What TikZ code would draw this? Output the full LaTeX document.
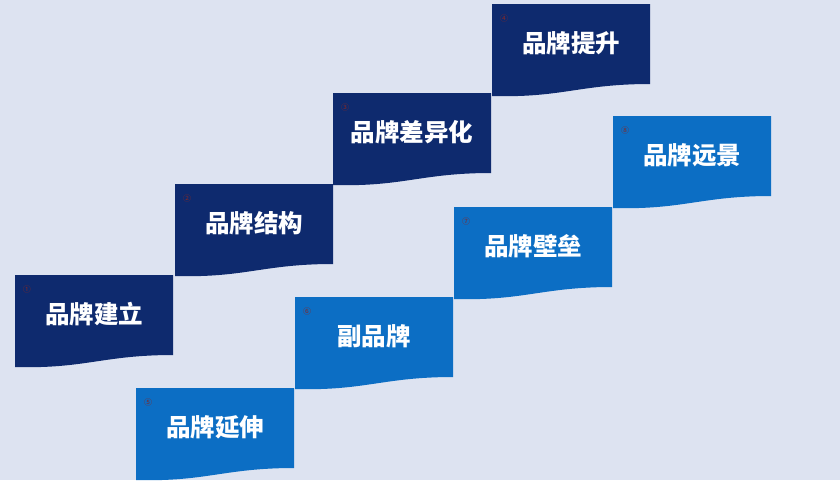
\documentclass[tikz,border=0pt]{standalone}
\usepackage{fontspec}
\newfontfamily\cjk{Noto Sans CJK SC}
\definecolor{bgc}{RGB}{221,227,241}
\definecolor{darkc}{RGB}{14,42,110}
\definecolor{lightc}{RGB}{12,110,196}
\definecolor{numc}{RGB}{130,40,40}
\tikzset{
  lbl/.style={text=white,font=\cjk\bfseries\fontsize{24.5}{28}\selectfont,inner sep=0pt},
  num/.style={text=numc,font=\cjk\fontsize{8}{9}\selectfont,inner sep=0pt}
}
\newcommand\brandbox[6]{%
  \fill[#4] (#2,#3) -- ++(158,0) -- ++(0,80)
    .. controls +(-70,0) and +(70,2) .. ++(-158,12) -- cycle;
  \node[lbl] (#1) at (#2+79,#3+39) {#5};
  \node[num] (#1n) at (#2+12,#3+14) {#6};
}
\begin{document}
\begin{tikzpicture}[x=1pt,y=-1pt]
\fill[bgc] (0,0) rectangle (840,480);
\useasboundingbox (0,0) rectangle (840,480);
\brandbox{b1}{15}{275}{darkc}{品牌建立}{①}
\brandbox{b2}{175}{184}{darkc}{品牌结构}{②}
\brandbox{b3}{333}{93}{darkc}{品牌差异化}{③}
\brandbox{b4}{492}{4}{darkc}{品牌提升}{④}
\brandbox{b5}{136}{388}{lightc}{品牌延伸}{⑤}
\brandbox{b6}{295}{297}{lightc}{副品牌}{⑥}
\brandbox{b7}{454}{207}{lightc}{品牌壁垒}{⑦}
\brandbox{b8}{613}{116}{lightc}{品牌远景}{⑧}
\end{tikzpicture}
\end{document}
